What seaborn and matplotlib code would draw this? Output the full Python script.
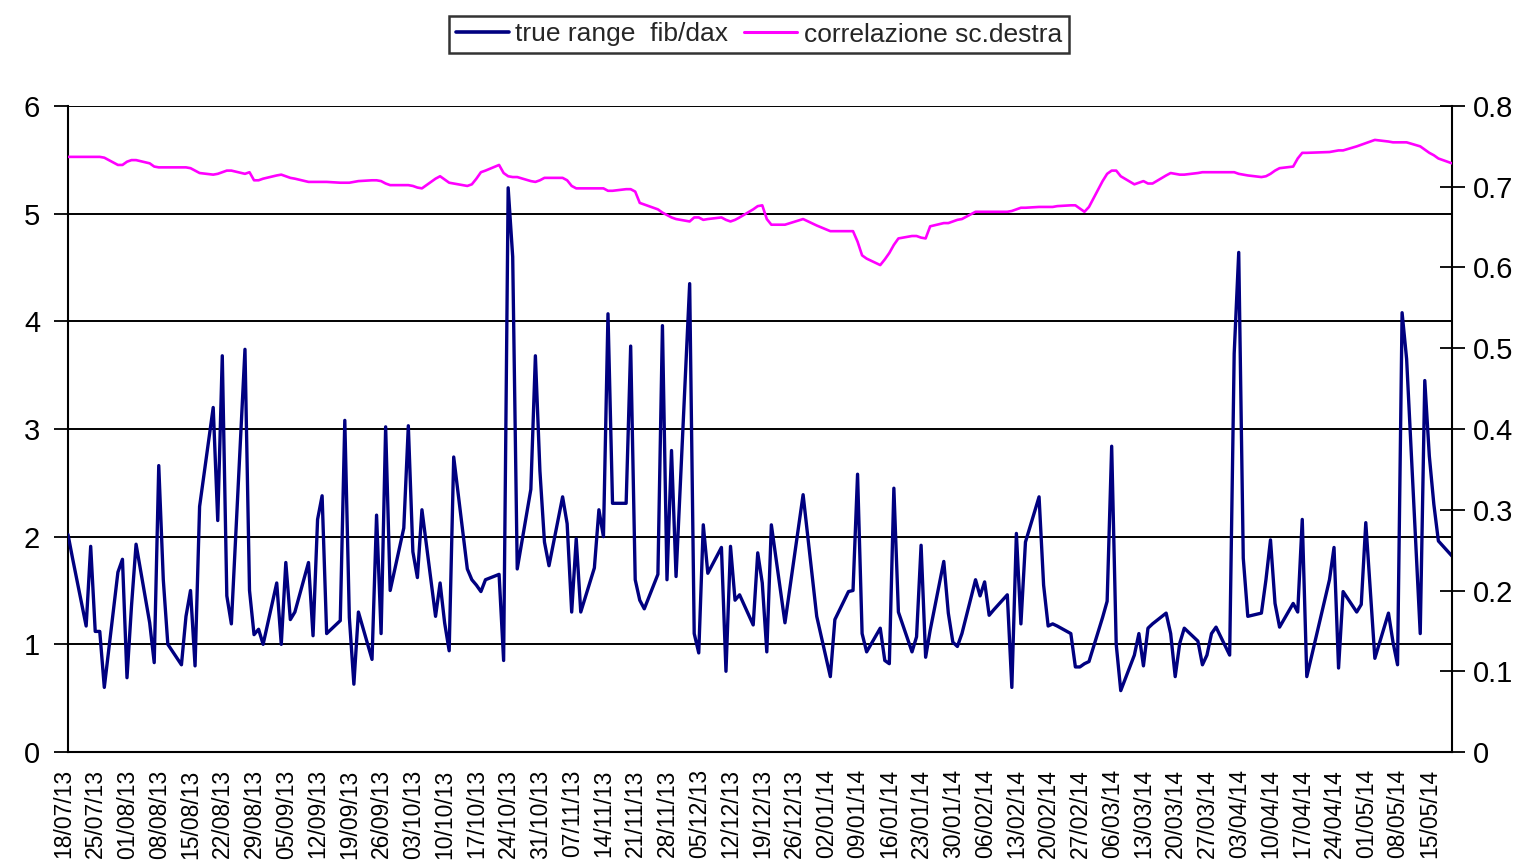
import numpy as np
import pandas as pd
import matplotlib
matplotlib.use("Agg")
import matplotlib.pyplot as plt
import matplotlib.dates as mdates
import matplotlib.ticker as mticker
import matplotlib.transforms as mtransforms
from matplotlib.lines import Line2D
import seaborn as sns

# ---------------- data ----------------
START = "2013-07-18"
END = "2014-05-19"
HOLIDAYS = ["2013-12-24", "2013-12-25", "2013-12-26", "2013-12-31",
            "2014-01-01", "2014-04-18", "2014-04-21", "2014-05-01"]

true_range = [
    2.02, 1.8, 1.17, 1.91, 1.12,
    1.12, 0.6, 1.67, 1.79, 0.69,
    1.36, 1.93, 1.2, 0.83, 2.66,
    1.6, 1.0, 0.81, 1.26, 1.5,
    0.8, 2.28, 3.2, 2.15, 3.68,
    1.45, 1.19, 3.74, 1.5, 1.09,
    1.14, 1.0, 1.57, 1.0, 1.76,
    1.23, 1.3, 1.76, 1.08, 2.16,
    2.38, 1.1, 1.22, 3.08, 1.25,
    0.63, 1.3, 0.86, 2.2, 1.1,
    3.02, 1.5, 2.08, 3.03, 1.86,
    1.62, 2.25, 1.26, 1.57, 1.2,
    0.94, 2.74, 1.7, 1.6, 1.55,
    1.49, 1.6, 1.65, 0.85, 5.24,
    4.6, 1.7, 2.44, 3.68, 2.61,
    1.95, 1.73, 2.37, 2.12, 1.3,
    1.98, 1.3, 1.71, 2.25, 2.0,
    4.07, 2.31, 2.31, 3.77, 1.6,
    1.41, 1.33, 1.65, 3.96, 1.6,
    2.8, 1.63, 4.35, 1.1, 0.92,
    2.11, 1.66, 1.9, 0.75, 1.91,
    1.41, 1.46, 1.18, 1.85, 1.57,
    0.93, 2.11, 1.2,
    2.39, 1.26,
    0.7, 1.23, 1.49, 1.5, 2.58,
    1.1, 0.93, 1.15, 0.85, 0.82,
    2.45, 1.3, 0.93, 1.07, 1.92,
    0.88, 1.13, 1.77, 1.29, 1.02,
    0.98, 1.1, 1.6, 1.45, 1.58,
    1.27, 1.32, 1.46, 0.6, 2.03,
    1.19, 1.95, 2.37, 1.55, 1.17,
    1.19, 1.17, 1.1, 0.79, 0.79,
    0.82, 0.84, 1.25, 1.4, 2.84,
    1.0, 0.57, 0.9, 1.1, 0.8,
    1.15, 1.19, 1.29, 1.1, 0.7,
    1.01, 1.15, 1.03, 0.81, 0.9,
    1.1, 1.16, 0.9, 3.7, 4.64,
    1.8, 1.26, 1.29, 1.6, 1.97,
    1.38, 1.16, 1.38, 1.3, 2.16,
    0.7, 1.6, 1.9,
    0.78, 1.49, 1.3, 1.37, 2.13,
    0.87, 1.29, 1.02, 0.81,
    4.08, 3.65, 1.1, 3.45, 2.75,
    2.3, 1.96, 1.82,
]

correlazione = [
    0.737, 0.737, 0.737, 0.737, 0.737,
    0.737, 0.736, 0.727, 0.727, 0.731,
    0.733, 0.733, 0.729, 0.725, 0.724,
    0.724, 0.724, 0.724, 0.724, 0.723,
    0.72, 0.717, 0.715, 0.716, 0.718,
    0.72, 0.72, 0.716, 0.718, 0.708,
    0.708, 0.71, 0.714, 0.715, 0.713,
    0.711, 0.71, 0.706, 0.706, 0.706,
    0.706, 0.706, 0.705, 0.705, 0.705,
    0.706, 0.707, 0.708, 0.708, 0.707,
    0.704, 0.702, 0.702, 0.702, 0.701,
    0.699, 0.698, 0.71, 0.713, 0.709,
    0.705, 0.704, 0.701, 0.703, 0.71,
    0.718, 0.72, 0.727, 0.717, 0.713,
    0.712, 0.712, 0.707, 0.706, 0.708,
    0.711, 0.711, 0.711, 0.708, 0.701,
    0.698, 0.698, 0.698, 0.698, 0.698,
    0.695, 0.695, 0.697, 0.697, 0.694,
    0.68, 0.678, 0.672, 0.668, 0.665,
    0.662, 0.66, 0.657, 0.662, 0.662,
    0.659, 0.66, 0.662, 0.659, 0.657,
    0.659, 0.662, 0.672, 0.676, 0.677,
    0.66, 0.653, 0.653,
    0.66, 0.652,
    0.645, 0.645, 0.645, 0.645, 0.632,
    0.615, 0.611, 0.603, 0.61, 0.618,
    0.628, 0.636, 0.639, 0.639, 0.637,
    0.636, 0.651, 0.655, 0.655, 0.657,
    0.659, 0.66, 0.669, 0.669, 0.669,
    0.669, 0.669, 0.669, 0.67, 0.672,
    0.674, 0.674, 0.675, 0.675, 0.675,
    0.675, 0.676, 0.677, 0.677, 0.673,
    0.669, 0.675, 0.707, 0.716, 0.72,
    0.72, 0.713, 0.703, 0.705, 0.707,
    0.704, 0.704, 0.714, 0.717, 0.716,
    0.715, 0.715, 0.717, 0.718, 0.718,
    0.718, 0.718, 0.718, 0.718, 0.716,
    0.715, 0.714, 0.712, 0.713, 0.716,
    0.72, 0.723, 0.725, 0.735, 0.742,
    0.742, 0.743, 0.744,
    0.745, 0.745, 0.75, 0.752, 0.754,
    0.758, 0.756, 0.755, 0.755,
    0.755, 0.755, 0.75, 0.746, 0.742,
    0.739, 0.735, 0.729,
]

LABEL_TR = "true range  fib/dax"
LABEL_CORR = "correlazione sc.destra"
TICK_START = "2013-07-18"
TICK_END = "2014-05-15"

# ---------------- build ----------------
dates = pd.bdate_range(START, END)
dates = dates[~dates.isin(pd.to_datetime(HOLIDAYS))]
df = pd.DataFrame({"data": dates, "tr": true_range, "corr": correlazione})

sns.set_theme(style="white")
plt.rcParams["font.family"] = ["Liberation Sans", "DejaVu Sans"]

W, H = 1521, 868
fig = plt.figure(figsize=(W / 100, H / 100), dpi=100)
fig.patch.set_facecolor("white")
L, R, T, B = 68, 1452, 106, 752
ax = fig.add_axes([L / W, 1 - B / H, (R - L) / W, (B - T) / H])
ax2 = ax.twinx()

BLUE = "#000080"
MAGENTA = "#FF00FF"

sns.lineplot(data=df, x="data", y="tr", ax=ax, color=BLUE, linewidth=2.4,
             legend=False, zorder=3)
sns.lineplot(data=df, x="data", y="corr", ax=ax2, color=MAGENTA, linewidth=1.9,
             legend=False, zorder=3)

ax.set_xlim(pd.Timestamp(START), pd.Timestamp(END))
ax.set_ylim(0, 6)
ax2.set_ylim(0, 0.8)
ax.set_xlabel("")
ax.set_ylabel("")
ax2.set_ylabel("")

# x ticks
tick_dates = pd.date_range(TICK_START, TICK_END, freq="7D")
ax.xaxis.set_major_locator(mticker.FixedLocator(mdates.date2num(tick_dates)))
ax.xaxis.set_major_formatter(mdates.DateFormatter("%d/%m/%y"))
ax.xaxis.set_minor_locator(mdates.DayLocator())
ax.tick_params(axis="x", which="major", direction="inout", length=9, width=1.3,
               labelsize=16.5, labelrotation=90, pad=8, colors="black")
ax.tick_params(axis="x", which="minor", direction="out", length=5, width=1.0,
               colors="black")
shift = mtransforms.ScaledTranslation(-4 / 100, 0, fig.dpi_scale_trans)
for lab in ax.get_xticklabels():
    lab.set_horizontalalignment("center")
    lab.set_transform(lab.get_transform() + shift)

# y ticks
ax.yaxis.set_major_locator(mticker.MultipleLocator(1))
ax.tick_params(axis="y", direction="out", length=10, width=1.3, labelsize=21,
               pad=10, colors="black")
ax2.yaxis.set_major_locator(mticker.MultipleLocator(0.1))
ax2.yaxis.set_major_formatter(
    mticker.FuncFormatter(lambda v, p: "0" if abs(v) < 1e-9 else f"{v:.1f}"))
ax2.tick_params(axis="y", direction="inout", length=18, width=1.3, labelsize=21,
                pad=6, colors="black")

# grid and spines
ax.grid(axis="y", color="black", linewidth=1.4)
ax.grid(axis="x", visible=False)
ax2.grid(False)
for sp in ["left", "bottom"]:
    ax.spines[sp].set_color("black")
    ax.spines[sp].set_linewidth(1.5)
ax.spines["top"].set_visible(False)
ax.spines["right"].set_visible(False)
for sp in ["left", "bottom", "top"]:
    ax2.spines[sp].set_visible(False)
ax2.spines["right"].set_color("black")
ax2.spines["right"].set_linewidth(1.5)

# legend
handles = [Line2D([], [], color=BLUE, linewidth=2.6),
           Line2D([], [], color=MAGENTA, linewidth=2.2)]
leg = fig.legend(handles, [LABEL_TR, LABEL_CORR], loc="center",
                 bbox_to_anchor=(759 / W, 1 - 34.5 / H), ncol=2, frameon=True,
                 fancybox=False, shadow=False, edgecolor="black", fontsize=19,
                 handlelength=2.0, handletextpad=0.25, columnspacing=0.6,
                 borderpad=0.25, borderaxespad=0)
leg.get_frame().set_linewidth(1.8)

fig.savefig("out.png", dpi=100, facecolor="white")
